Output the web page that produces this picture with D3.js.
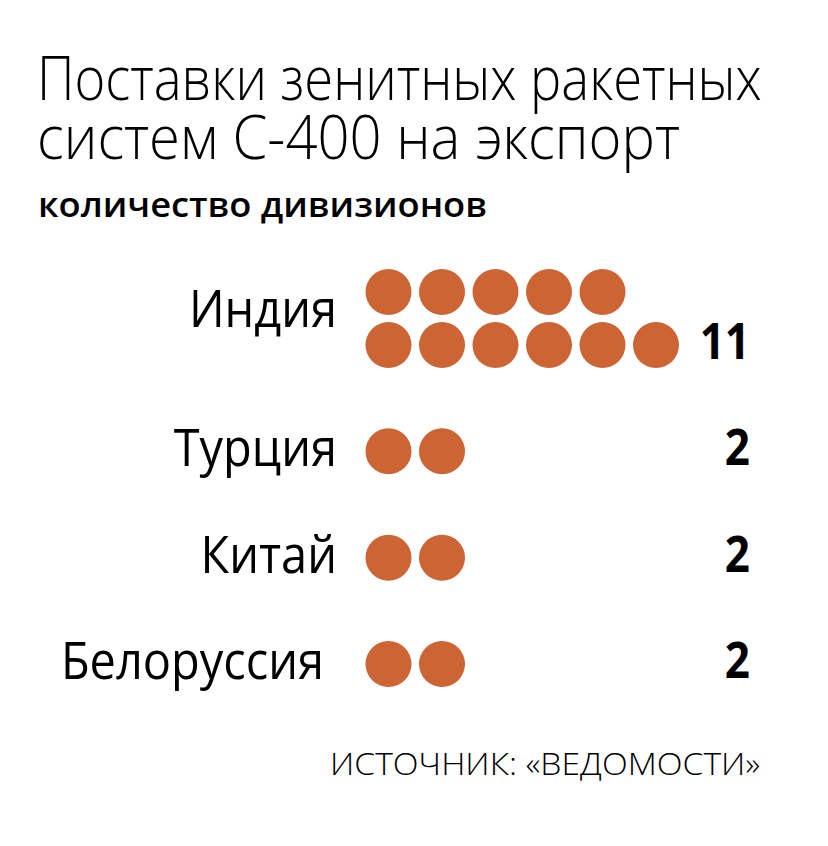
<!DOCTYPE html>
<html>
<head>
<meta charset="utf-8">
<script src="https://cdn.jsdelivr.net/npm/d3@7"></script>
<style>
  body { margin: 0; background: #fff; }
  text { font-family: "Open Sans", "Noto Sans", sans-serif; fill: #000; }
</style>
</head>
<body>
<div id="chart-area"></div>
<script>
// data
var countries = ["Индия", "Турция", "Китай", "Белоруссия"];
var divisions = [11, 2, 2, 2];
var titleLines = ["Поставки зенитных ракетных", "систем С-400 на экспорт"];
var subtitle = "количество дивизионов";
var source = "ИСТОЧНИК: «ВЕДОМОСТИ»";

var perRow = 6;
var dotColor = "#cc6434";

// the original font is narrower than Open Sans, so squeeze text horizontally
function squeeze(sel, factor) {
    sel.each(function() {
        var w = this.getComputedTextLength();
        d3.select(this)
            .attr("textLength", w * factor)
            .attr("lengthAdjust", "spacingAndGlyphs");
    });
}
function fitTo(sel, width) {
    sel.attr("textLength", width).attr("lengthAdjust", "spacingAndGlyphs");
}

var svg = d3.select("#chart-area").append("svg")
    .attr("width", 828)
    .attr("height", 846);

// title, scaled with a transform so its box stays inside the picture
var titleWidths = [725, 643];
svg.selectAll(".title")
    .data(titleLines)
    .enter()
    .append("text")
        .attr("class", "title")
        .attr("font-size", 60)
        .attr("font-weight", 300)
        .text(d => d)
        .each(function(d, i) {
            var k = titleWidths[i] / this.getComputedTextLength();
            d3.select(this).attr("transform",
                "translate(37," + (100 + i * 59) + ") scale(" + k + ",1)");
        });

var sub = svg.append("text")
    .attr("x", 38)
    .attr("y", 217)
    .attr("font-size", 35)
    .attr("font-weight", 600)
    .text(subtitle);
fitTo(sub, 449);

// scales
var x = d3.scaleLinear()
    .domain([0, perRow - 1])
    .range([388.5, 656]);

var y = d3.scalePoint()
    .domain(countries)
    .range([345, 664]);

var rowStep = 53;

// one entry per dot, filling the bottom row first
var dots = [];
countries.forEach((c, i) => {
    var n = divisions[i];
    for (var k = 0; k < n; k++) {
        dots.push({ country: c, col: k % perRow, row: Math.floor(k / perRow) });
    }
});

svg.selectAll("circle")
    .data(dots)
    .enter()
    .append("circle")
        .attr("cx", d => x(d.col))
        .attr("cy", d => y(d.country) - d.row * rowStep)
        .attr("r", 23)
        .attr("fill", dotColor);

// country labels
var labels = svg.selectAll(".label")
    .data(countries)
    .enter()
    .append("text")
        .attr("class", "label")
        .attr("x", (d, i) => i == countries.length - 1 ? 324 : 337)
        .attr("y", (d, i) => {
            var rows = Math.ceil(divisions[i] / perRow);
            return y(d) + 15 - (rows - 1) * rowStep * 0.62;
        })
        .attr("text-anchor", "end")
        .attr("font-size", 51)
        .text(d => d);
squeeze(labels, 0.92);

// values
var values = svg.selectAll(".value")
    .data(divisions)
    .enter()
    .append("text")
        .attr("class", "value")
        .attr("x", 750)
        .attr("y", (d, i) => y(countries[i]) + 14)
        .attr("text-anchor", "end")
        .attr("font-size", 50)
        .attr("font-weight", 700)
        .text(d => d);
squeeze(values, 0.88);

// source
var src = svg.append("text")
    .attr("x", 760)
    .attr("y", 775)
    .attr("text-anchor", "end")
    .attr("font-size", 31)
    .attr("font-weight", 300)
    .text(source);
fitTo(src, 430);
</script>
</body>
</html>
